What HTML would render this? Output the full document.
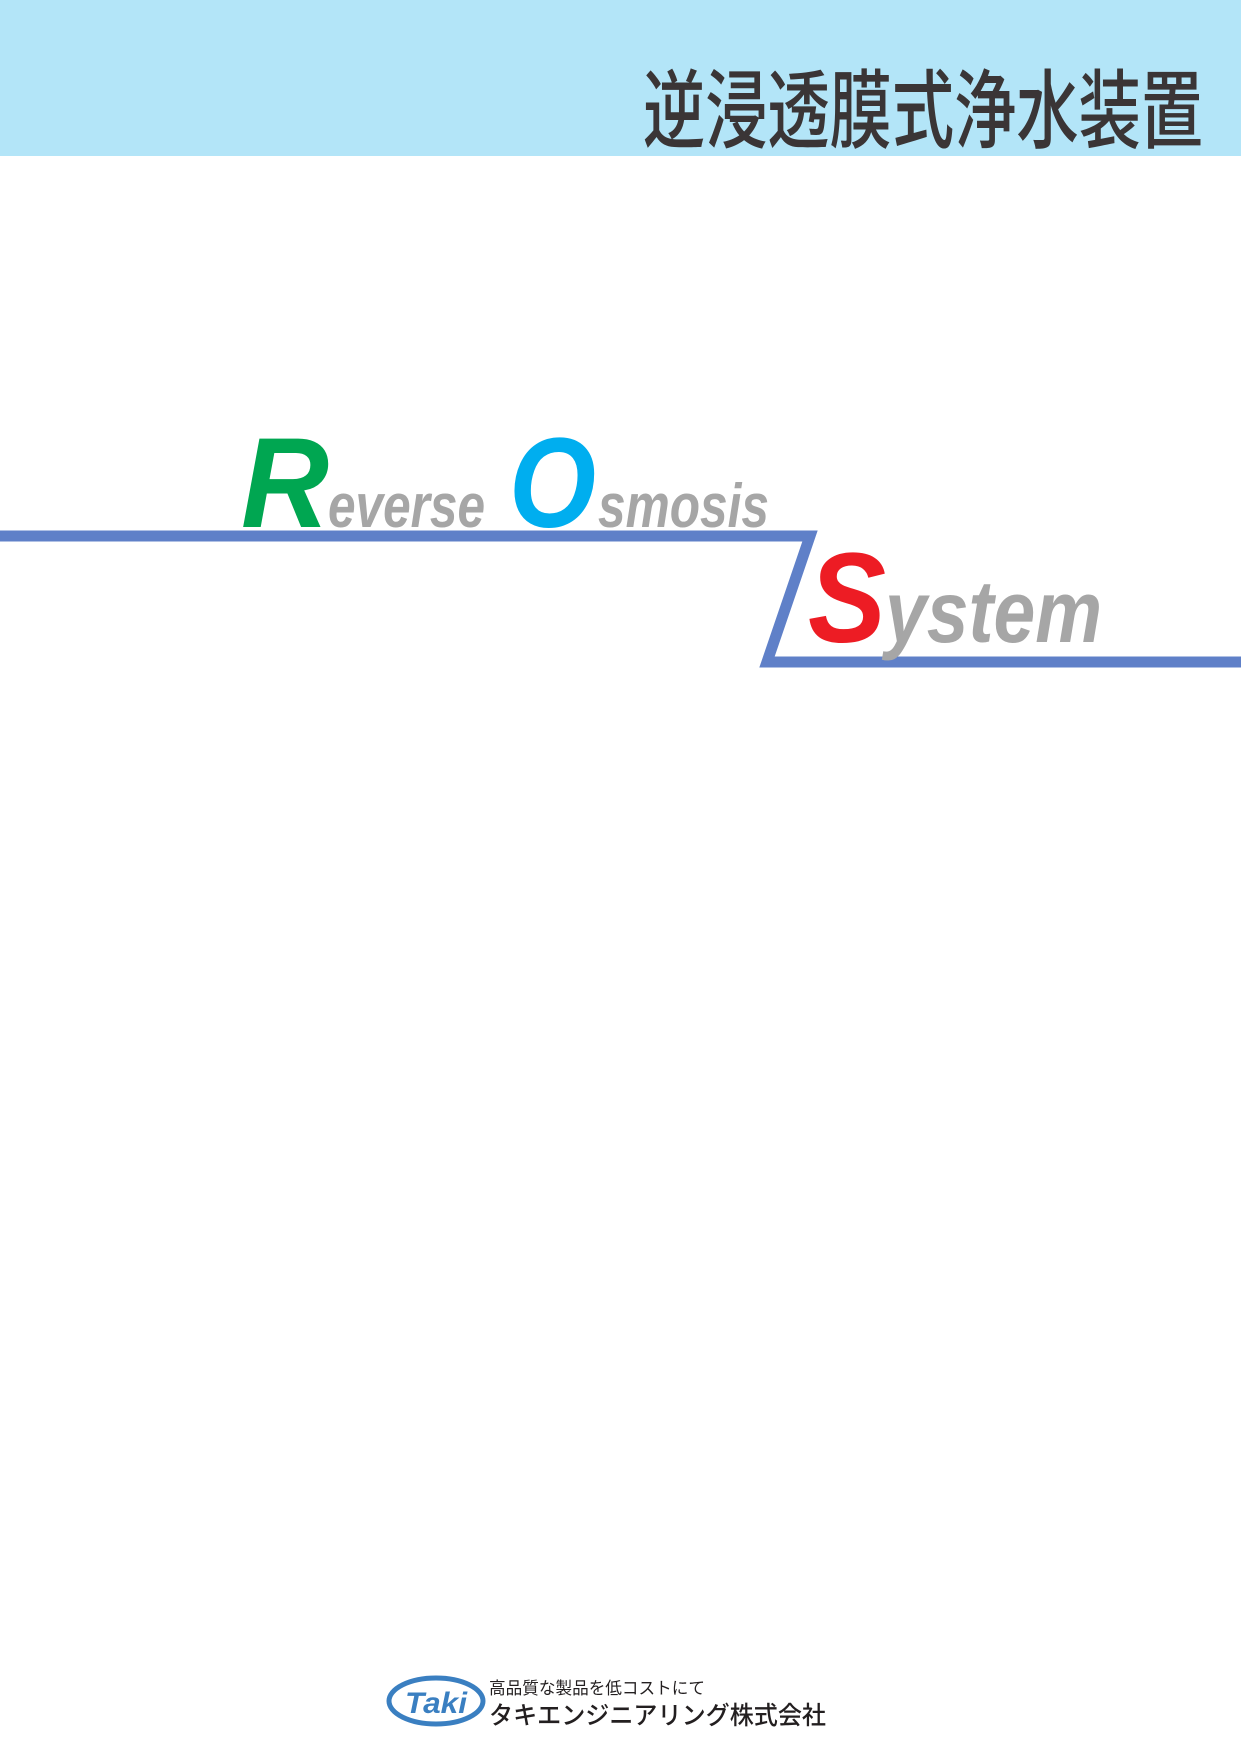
<!DOCTYPE html>
<html><head><meta charset="utf-8"><style>
html,body{margin:0;padding:0;background:#fff}
svg{display:block}
</style></head><body>
<svg width="1241" height="1754" viewBox="0 0 1241 1754" xmlns="http://www.w3.org/2000/svg">
<rect x="0" y="0" width="1241" height="156" fill="#b3e5f8"/>
<text x="643" y="141" font-family="'Noto Sans CJK JP',sans-serif" font-weight="500" font-size="86" fill="#3a3536" textLength="560" lengthAdjust="spacingAndGlyphs">逆浸透膜式浄水装置</text>

<polyline points="0,536 810,536 767,662 1241,662" fill="none" stroke="#5f80c8" stroke-width="11" stroke-linejoin="miter"/>

<g font-family="'Liberation Sans',sans-serif" font-weight="bold" font-style="italic">
<text x="241" y="527" font-size="128" fill="#00a651" textLength="88" lengthAdjust="spacingAndGlyphs">R</text>
<text x="328" y="527" font-size="62" fill="#a6a6a6" textLength="157" lengthAdjust="spacingAndGlyphs">everse</text>
<text x="509" y="527" font-size="128" fill="#00aeef" textLength="87" lengthAdjust="spacingAndGlyphs">O</text>
<text x="598" y="527" font-size="62" fill="#a6a6a6" textLength="171" lengthAdjust="spacingAndGlyphs">smosis</text>
<text x="808" y="642" font-size="128" fill="#ed1c24" textLength="78" lengthAdjust="spacingAndGlyphs">S</text>
<text x="885" y="642" font-size="88" fill="#a6a6a6" textLength="217" lengthAdjust="spacingAndGlyphs">ystem</text>
</g>

<ellipse cx="436" cy="1701" rx="47" ry="23" fill="none" stroke="#3a7fc1" stroke-width="5"/>
<text x="405" y="1713" font-family="'Liberation Sans',sans-serif" font-weight="bold" font-style="italic" font-size="30" fill="#3a7fc1" textLength="62" lengthAdjust="spacingAndGlyphs">Taki</text>
<text x="489" y="1694" font-family="'Noto Sans CJK JP',sans-serif" font-size="17" fill="#231f20" textLength="216" lengthAdjust="spacingAndGlyphs">高品質な製品を低コストにて</text>
<text x="489" y="1724" font-family="'Noto Sans CJK JP',sans-serif" font-weight="500" font-size="25" fill="#231f20" textLength="337" lengthAdjust="spacingAndGlyphs">タキエンジニアリング株式会社</text>
</svg>
</body></html>
